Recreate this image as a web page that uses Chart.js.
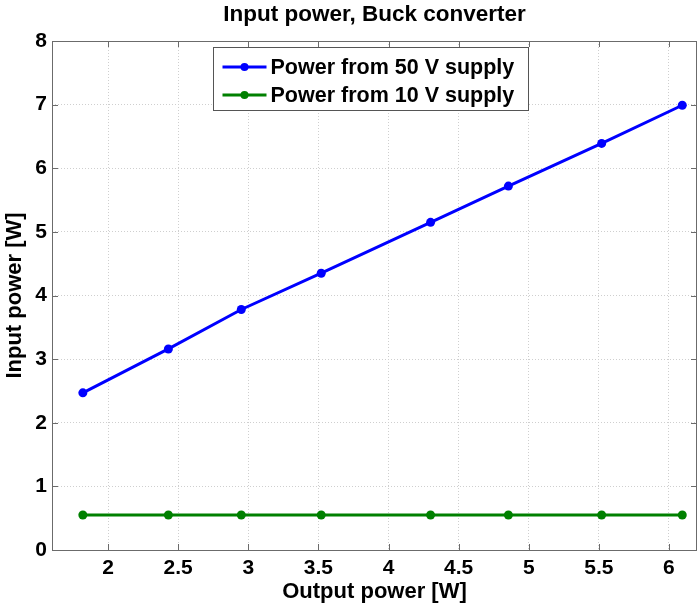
<!DOCTYPE html>
<html>
<head>
<meta charset="utf-8">
<title>Input power, Buck converter</title>
<script src="https://cdn.jsdelivr.net/npm/chart.js@4.4.0/dist/chart.umd.min.js"></script>
<style>
    html, body { margin: 0; padding: 0; background: #fff; }
    #wrap { width: 698px; height: 607px; }
</style>
</head>
<body>
<div id="wrap"><canvas id="chart1" width="698" height="607"></canvas></div>
<script>
// data
const outputPower = [1.82, 2.43, 2.95, 3.52, 4.30, 4.855, 5.52, 6.095];
const input50V = [2.47, 3.16, 3.78, 4.35, 5.15, 5.72, 6.39, 6.99];
const input10V = [0.55, 0.55, 0.55, 0.55, 0.55, 0.55, 0.55, 0.55];
const seriesNames = ['Power from 50 V supply', 'Power from 10 V supply'];
const xTicks = [2, 2.5, 3, 3.5, 4, 4.5, 5, 5.5, 6];
const yTicks = [0, 1, 2, 3, 4, 5, 6, 7, 8];

const FONT = 'Liberation Sans, Arial, Helvetica, sans-serif';

function toPoints(ys) {
    return outputPower.map((x, i) => ({ x: x, y: ys[i] }));
}

// matlab style box, inward ticks and the legend inside the axes
const matlabFrame = {
    id: 'matlabFrame',
    afterDraw(chart) {
        const ctx = chart.ctx;
        const a = chart.chartArea;
        const xs = chart.scales.x;
        const ys = chart.scales.y;
        ctx.save();
        ctx.strokeStyle = '#6b6b6b';
        ctx.lineWidth = 1;
        ctx.setLineDash([]);
        ctx.strokeRect(Math.round(a.left) + 0.5, Math.round(a.top) + 0.5,
            Math.round(a.right - a.left) - 1, Math.round(a.bottom - a.top));
        const tl = 6;
        ctx.beginPath();
        xTicks.forEach(v => {
            const px = Math.round(xs.getPixelForValue(v)) + 0.5;
            ctx.moveTo(px, a.bottom); ctx.lineTo(px, a.bottom - tl);
            ctx.moveTo(px, a.top); ctx.lineTo(px, a.top + tl);
        });
        yTicks.forEach(v => {
            const py = Math.round(ys.getPixelForValue(v)) + 0.5;
            ctx.moveTo(a.left, py); ctx.lineTo(a.left + tl, py);
            ctx.moveTo(a.right, py); ctx.lineTo(a.right - tl, py);
        });
        ctx.stroke();

        // legend
        const box = { x: 213.5, y: 47.5, w: 315, h: 63 };
        ctx.fillStyle = '#fff';
        ctx.fillRect(box.x, box.y, box.w, box.h);
        ctx.strokeStyle = '#555';
        ctx.strokeRect(box.x, box.y, box.w, box.h);
        ctx.font = 'bold 21.5px ' + FONT;
        ctx.textBaseline = 'middle';
        ctx.textAlign = 'left';
        chart.data.datasets.forEach((ds, i) => {
            const cy = box.y + 19.5 + i * 28;
            ctx.strokeStyle = ds.borderColor;
            ctx.lineWidth = 3;
            ctx.beginPath();
            ctx.moveTo(box.x + 9, cy);
            ctx.lineTo(box.x + 53, cy);
            ctx.stroke();
            ctx.fillStyle = ds.borderColor;
            ctx.beginPath();
            ctx.arc(box.x + 31, cy, 4, 0, Math.PI * 2);
            ctx.fill();
            ctx.fillStyle = '#000';
            ctx.fillText(ds.label, box.x + 57, cy + 1);
        });
        ctx.restore();
    }
};

const ctx1 = document.getElementById('chart1').getContext('2d');

const chart1 = new Chart(ctx1, {
    type: 'line',
    data: {
        datasets: [{
            label: seriesNames[0],
            data: toPoints(input50V),
            borderColor: '#0000ff',
            backgroundColor: '#0000ff',
            borderWidth: 3,
            pointRadius: 4.5,
            pointBorderWidth: 0,
            fill: false,
        }, {
            label: seriesNames[1],
            data: toPoints(input10V),
            borderColor: '#008000',
            backgroundColor: '#008000',
            borderWidth: 3,
            pointRadius: 4.5,
            pointBorderWidth: 0,
            fill: false,
        }]
    },
    options: {
        responsive: false,
        animation: false,
        layout: {
            autoPadding: false,
            padding: { left: 0, right: 1, top: 0, bottom: 0 }
        },
        plugins: {
            legend: { display: false },
            tooltip: { enabled: false },
            title: {
                display: true,
                fullSize: false,
                text: 'Input power, Buck converter',
                color: '#000',
                font: { family: FONT, size: 22.5, weight: 'bold' },
                padding: { top: 1, bottom: 13 }
            }
        },
        scales: {
            x: {
                type: 'linear',
                min: 1.6,
                max: 6.2,
                afterBuildTicks: axis => { axis.ticks = xTicks.map(v => ({ value: v })); },
                afterFit: axis => { axis.height = 57; },
                grid: { color: '#cfcfcf', lineWidth: 1, drawTicks: false },
                border: { display: false, dash: [1, 2] },
                ticks: {
                    color: '#000',
                    padding: 6,
                    maxRotation: 0,
                    callback: v => String(v),
                    font: { family: FONT, size: 21, weight: 'bold' }
                },
                title: {
                    display: true,
                    text: 'Output power [W]',
                    color: '#000',
                    font: { family: FONT, size: 22, weight: 'bold' },
                    padding: { top: 0, bottom: 2 }
                }
            },
            y: {
                min: 0,
                max: 8,
                afterBuildTicks: axis => { axis.ticks = yTicks.map(v => ({ value: v })); },
                afterFit: axis => { axis.width = 52; },
                grid: { color: '#cfcfcf', lineWidth: 1, drawTicks: false },
                border: { display: false, dash: [1, 2] },
                ticks: {
                    color: '#000',
                    padding: 5,
                    font: { family: FONT, size: 21, weight: 'bold' }
                },
                title: {
                    display: true,
                    text: 'Input power [W]',
                    color: '#000',
                    font: { family: FONT, size: 22, weight: 'bold' },
                    padding: { top: 2, bottom: 0 }
                }
            }
        }
    },
    plugins: [matlabFrame]
});
</script>
</body>
</html>
